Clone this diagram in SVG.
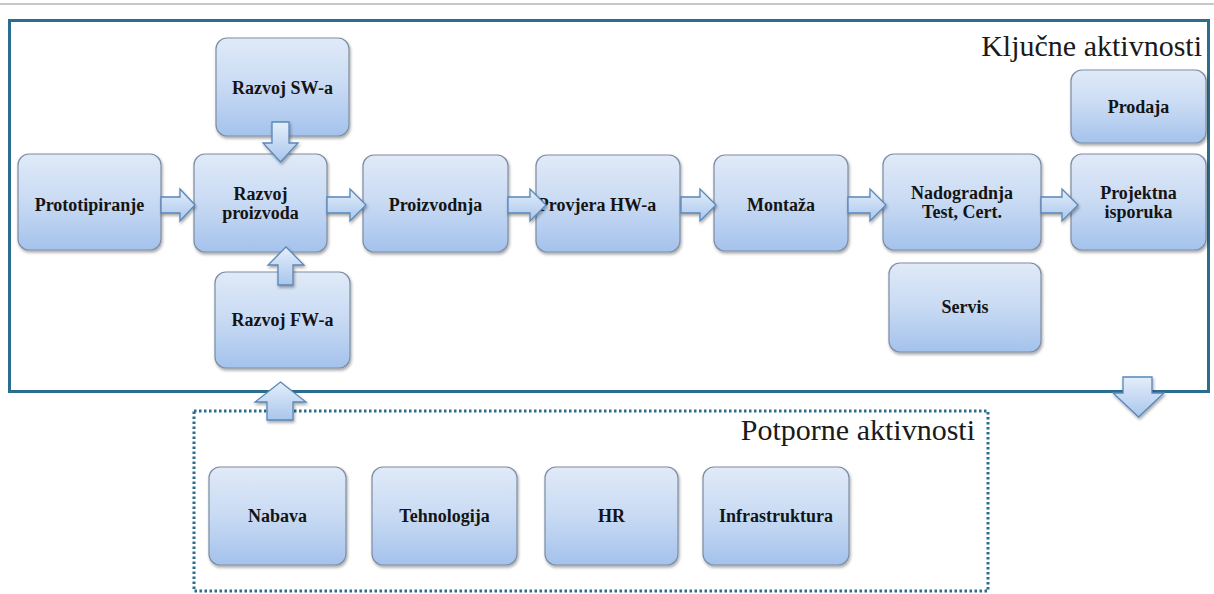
<svg xmlns="http://www.w3.org/2000/svg" width="1214" height="594" viewBox="0 0 1214 594">
<defs>
<linearGradient id="nodeGrad" x1="0" y1="0" x2="0" y2="1">
<stop offset="0" stop-color="#e0eaf8"/>
<stop offset="0.5" stop-color="#c8daf3"/>
<stop offset="1" stop-color="#a4c2ec"/>
</linearGradient>
<linearGradient id="arrowGradV" x1="0" y1="0" x2="0" y2="1">
<stop offset="0" stop-color="#e4eefa"/>
<stop offset="1" stop-color="#a9c6ec"/>
</linearGradient>
<filter id="shadow" x="-10%" y="-10%" width="125%" height="130%">
<feDropShadow dx="1" dy="2" stdDeviation="1.6" flood-color="#000" flood-opacity="0.35"/>
</filter>
<style>
.node rect{fill:url(#nodeGrad);stroke:#7d8da3;stroke-width:1.2;filter:url(#shadow)}
.node text{font-family:"Liberation Serif","Times New Roman",serif;font-weight:bold;font-size:18px;fill:#141414;text-anchor:middle}
.arrow{fill:url(#arrowGradV);stroke:#5a86b8;stroke-width:1.3;stroke-linejoin:miter;filter:url(#shadow)}
.title{font-family:"Liberation Serif","Times New Roman",serif;font-size:30px;fill:#1a1a1a;text-anchor:end}
</style>
</defs>
<rect width="1214" height="594" fill="#ffffff"/>
<line x1="0" y1="4" x2="1214" y2="4" stroke="#c8c8c8" stroke-width="2"/>

<g id="kljucne">
<rect x="9.5" y="20.5" width="1199" height="371" fill="none" stroke="#2b6d8e" stroke-width="3"/>
<text class="title" x="1202" y="56">Ključne aktivnosti</text>
</g>
<g id="potporne">
<rect x="194" y="411" width="794" height="180" fill="none" stroke="#2b6d8e" stroke-width="3" stroke-dasharray="2.5 2.5"/>
<text class="title" x="975" y="440">Potporne aktivnosti</text>
</g>

<g id="n-sw" class="node"><rect x="216" y="38" width="133" height="98" rx="11"/><text x="282.5" y="94">Razvoj SW-a</text></g>
<g id="n-proto" class="node"><rect x="18" y="154" width="143" height="96" rx="11"/><text x="89.5" y="211">Prototipiranje</text></g>
<g id="n-razvoj" class="node"><rect x="194" y="154" width="133" height="98" rx="11"/><text x="260.5" y="200">Razvoj</text><text x="260.5" y="219">proizvoda</text></g>
<g id="n-proizv" class="node"><rect x="363" y="155" width="145" height="97" rx="11"/><text x="435.5" y="211">Proizvodnja</text></g>
<g id="n-provjera" class="node"><rect x="536" y="155" width="144" height="97" rx="11"/><text x="597" y="211">Provjera HW-a</text></g>
<g id="n-montaza" class="node"><rect x="714" y="155" width="134" height="96" rx="11"/><text x="781" y="211">Montaža</text></g>
<g id="n-nadog" class="node"><rect x="883" y="154" width="158" height="96" rx="11"/><text x="962" y="199">Nadogradnja</text><text x="962" y="218">Test, Cert.</text></g>
<g id="n-projekt" class="node"><rect x="1071" y="154" width="135" height="96" rx="11"/><text x="1138.5" y="199">Projektna</text><text x="1138.5" y="218">isporuka</text></g>
<g id="n-prodaja" class="node"><rect x="1071" y="70" width="135" height="73" rx="11"/><text x="1138.5" y="113">Prodaja</text></g>
<g id="n-servis" class="node"><rect x="889" y="263" width="152" height="89" rx="11"/><text x="965" y="313">Servis</text></g>
<g id="n-fw" class="node"><rect x="215" y="272" width="135" height="96" rx="11"/><text x="282.5" y="326">Razvoj FW-a</text></g>
<g id="n-nabava" class="node"><rect x="209" y="467" width="137" height="98" rx="11"/><text x="277.5" y="522">Nabava</text></g>
<g id="n-tehno" class="node"><rect x="372" y="467" width="145" height="98" rx="11"/><text x="444.5" y="522">Tehnologija</text></g>
<g id="n-hr" class="node"><rect x="545" y="467" width="133" height="98" rx="11"/><text x="611.5" y="522">HR</text></g>
<g id="n-infra" class="node"><rect x="703" y="467" width="146" height="98" rx="11"/><text x="776" y="522">Infrastruktura</text></g>

<g id="connectors">
<path class="arrow" d="M161,197 H180 V189 L195,205 L180,221 V213 H161 Z"/>
<path class="arrow" d="M327,197 H350 V189 L366,205 L350,221 V213 H327 Z"/>
<path class="arrow" d="M508,197 H530 V189 L546,205 L530,221 V213 H508 Z"/>
<path class="arrow" d="M681,197 H700 V189 L716,205 L700,221 V213 H681 Z"/>
<path class="arrow" d="M848,197 H870 V189 L886,205 L870,221 V213 H848 Z"/>
<path class="arrow" d="M1041,197 H1062 V189 L1078,205 L1062,221 V213 H1041 Z"/>
<path class="arrow" d="M272,122 H289 V143 H298 L280.5,162 L263,143 H272 Z"/>
<path class="arrow" d="M278,285 V265 H268 L286,247 L304,265 H293 V285 Z"/>
<path class="arrow" d="M267,420 V402 H255 L280.5,382 L306,402 H293 V420 Z"/>
<path class="arrow" d="M1123,377 H1152 V393 H1164 L1138.5,417 L1113,393 H1123 Z"/>
</g>
</svg>
